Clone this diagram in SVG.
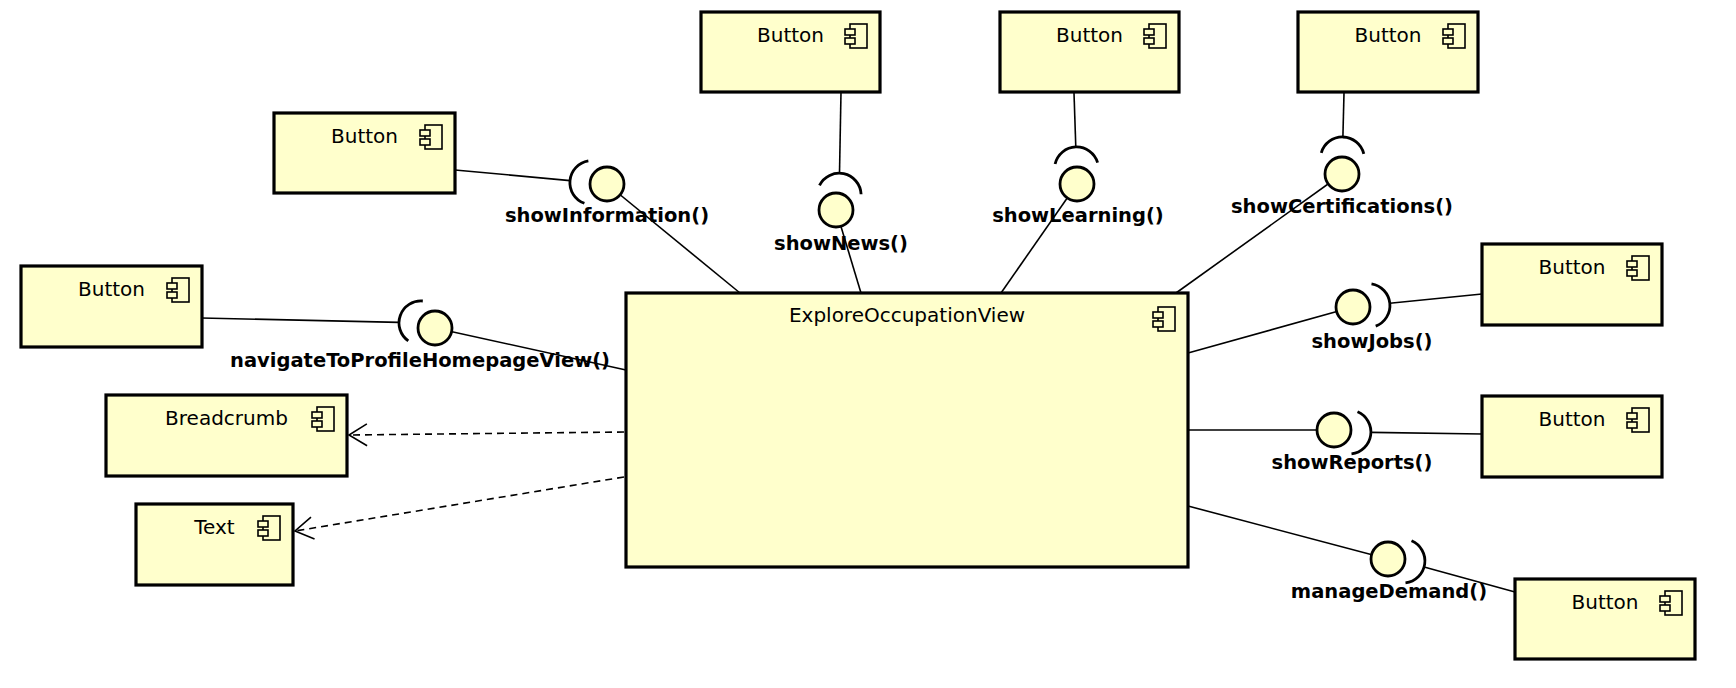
<svg xmlns="http://www.w3.org/2000/svg" width="1736" height="688" viewBox="0 0 1736 688">
<style>
.box{fill:#ffffcc;stroke:#000;stroke-width:3.2}
.ic{fill:#ffffcc;stroke:#000;stroke-width:1.6}
.nm{font-family:"DejaVu Sans","Liberation Sans",sans-serif;font-size:20px;fill:#000;text-anchor:middle}
.lb{font-family:"DejaVu Sans","Liberation Sans",sans-serif;font-size:19.5px;font-weight:bold;fill:#000;text-anchor:middle}
.ln{stroke:#000;stroke-width:1.6;fill:none}
.dep{stroke:#000;stroke-width:1.6;fill:none;stroke-dasharray:7 5}
.ball{fill:#ffffcc;stroke:#000;stroke-width:2.8}
.sock{fill:none;stroke:#000;stroke-width:2.8}
</style>
<defs>
<marker id="open" markerUnits="userSpaceOnUse" markerWidth="22" markerHeight="26" refX="19" refY="12" orient="auto">
<path d="M1,1 L19,12 L1,23" fill="none" stroke="#000" stroke-width="1.6" stroke-dasharray="none"/>
</marker>
<g id="icon">
<rect class="ic" x="-30" y="12" width="17" height="24"/>
<rect class="ic" x="-35" y="17" width="10" height="6"/>
<rect class="ic" x="-35" y="26" width="10" height="6"/>
</g>
</defs>
<rect width="1736" height="688" fill="#fff"/>

<g id="connectors">
<line class="ln" x1="455" y1="170" x2="570.1" y2="180.6"/>
<line class="ln" x1="607" y1="184" x2="740" y2="293"/>
<line class="ln" x1="841" y1="92" x2="839.5" y2="173.3"/>
<line class="ln" x1="836" y1="210" x2="861" y2="293"/>
<line class="ln" x1="1074" y1="93" x2="1075.8" y2="147"/>
<line class="ln" x1="1077" y1="184" x2="1001" y2="293"/>
<line class="ln" x1="1344" y1="93" x2="1342.9" y2="137"/>
<line class="ln" x1="1342" y1="174" x2="1176" y2="293"/>
<line class="ln" x1="1482" y1="294" x2="1389.8" y2="303.3"/>
<line class="ln" x1="1353" y1="307" x2="1188" y2="353"/>
<line class="ln" x1="1482" y1="434" x2="1370.9" y2="432.4"/>
<line class="ln" x1="1334" y1="430" x2="1188" y2="430"/>
<line class="ln" x1="1515" y1="592" x2="1424.1" y2="566.9"/>
<line class="ln" x1="1388" y1="559" x2="1188" y2="506"/>
<line class="ln" x1="201.5" y1="318" x2="398.9" y2="322.4"/>
<line class="ln" x1="435" y1="328" x2="626" y2="370"/>
<line class="dep" x1="624" y1="432" x2="349" y2="435" marker-end="url(#open)"/>
<line class="dep" x1="624" y1="477" x2="295" y2="531" marker-end="url(#open)"/>
</g>

<g id="btnNews"><rect class="box" x="701" y="12" width="179" height="80"/><text class="nm" x="790.5" y="42">Button</text><use href="#icon" x="880" y="12"/></g>
<g id="btnLearning"><rect class="box" x="1000" y="12" width="179" height="80"/><text class="nm" x="1089.5" y="42">Button</text><use href="#icon" x="1179" y="12"/></g>
<g id="btnCertifications"><rect class="box" x="1298" y="12" width="180" height="80"/><text class="nm" x="1388" y="42">Button</text><use href="#icon" x="1478" y="12"/></g>
<g id="btnInformation"><rect class="box" x="274" y="113" width="181" height="80"/><text class="nm" x="364.5" y="143">Button</text><use href="#icon" x="455" y="113"/></g>
<g id="btnNavigate"><rect class="box" x="21" y="266" width="181" height="81"/><text class="nm" x="111.5" y="296">Button</text><use href="#icon" x="202" y="266"/></g>
<g id="breadcrumb"><rect class="box" x="106" y="395" width="241" height="81"/><text class="nm" x="226.5" y="425">Breadcrumb</text><use href="#icon" x="347" y="395"/></g>
<g id="text"><rect class="box" x="136" y="504" width="157" height="81"/><text class="nm" x="214.5" y="534">Text</text><use href="#icon" x="293" y="504"/></g>
<g id="exploreOccupationView"><rect class="box" x="626" y="293" width="562" height="274"/><text class="nm" x="907" y="322">ExploreOccupationView</text><use href="#icon" x="1188" y="295"/></g>
<g id="btnJobs"><rect class="box" x="1482" y="244" width="180" height="81"/><text class="nm" x="1572" y="274">Button</text><use href="#icon" x="1662" y="244"/></g>
<g id="btnReports"><rect class="box" x="1482" y="396" width="180" height="81"/><text class="nm" x="1572" y="426">Button</text><use href="#icon" x="1662" y="396"/></g>
<g id="btnDemand"><rect class="box" x="1515" y="579" width="180" height="80"/><text class="nm" x="1605" y="609">Button</text><use href="#icon" x="1695" y="579"/></g>

<g id="ifInformation">
<path class="sock" d="M588.35,160.9 A22,22 0 0 0 584.4,203.3"/>
<circle class="ball" cx="607" cy="184" r="17"/>
<text class="lb" x="607" y="222">showInformation()</text>
</g>
<g id="ifNews">
<path class="sock" d="M819.5,185.3 A22,22 0 0 1 861.1,194.2"/>
<circle class="ball" cx="836" cy="210" r="17"/>
<text class="lb" x="841" y="250">showNews()</text>
</g>
<g id="ifLearning">
<path class="sock" d="M1055.1,164 A22,22 0 0 1 1097.6,162.6"/>
<circle class="ball" cx="1077" cy="184" r="17"/>
<text class="lb" x="1078" y="222">showLearning()</text>
</g>
<g id="ifCertifications">
<path class="sock" d="M1321.3,152.8 A22,22 0 0 1 1363.8,153.8"/>
<circle class="ball" cx="1342" cy="174" r="17"/>
<text class="lb" x="1342" y="213">showCertifications()</text>
</g>
<g id="ifJobs">
<path class="sock" d="M1371.5,283.8 A22,22 0 0 1 1375.7,326.1"/>
<circle class="ball" cx="1353" cy="307" r="17"/>
<text class="lb" x="1372" y="348">showJobs()</text>
</g>
<g id="ifReports">
<path class="sock" d="M1357.5,411.8 A22,22 0 0 1 1351.5,453.9"/>
<circle class="ball" cx="1334" cy="430" r="17"/>
<text class="lb" x="1352" y="469">showReports()</text>
</g>
<g id="ifDemand">
<path class="sock" d="M1411.5,540.8 A22,22 0 0 1 1405.5,582.9"/>
<circle class="ball" cx="1388" cy="559" r="17"/>
<text class="lb" x="1389" y="598">manageDemand()</text>
</g>
<g id="ifNavigate">
<path class="sock" d="M422.8,301 A22,22 0 0 0 408.3,340.9"/>
<circle class="ball" cx="435" cy="328" r="17"/>
<text class="lb" x="420" y="367">navigateToProfileHomepageView()</text>
</g>
</svg>
